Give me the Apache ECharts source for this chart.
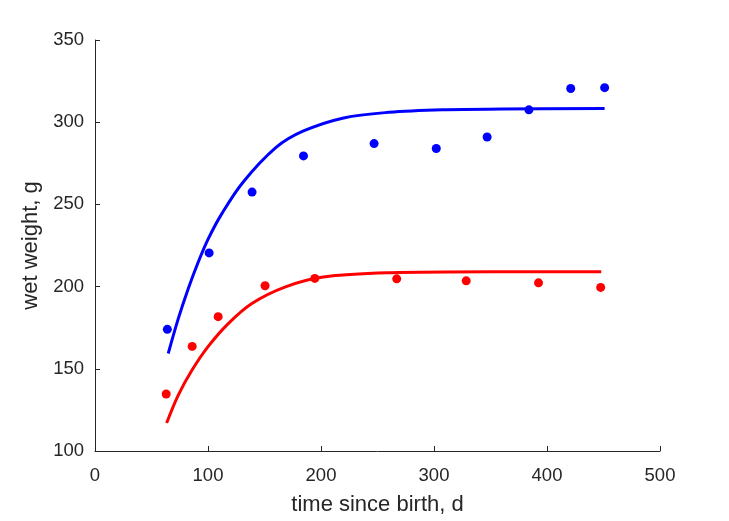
<!DOCTYPE html>
<html>
<head>
<meta charset="utf-8">
<script src="https://cdn.jsdelivr.net/npm/echarts@6/dist/echarts.min.js"></script>
<style>html,body{margin:0;padding:0;background:#fff;}#c{width:729px;height:521px;}</style>
</head>
<body>
<div id="c"></div>
<script>
// observed data (blue)
var blueT = [64, 101, 139, 184.5, 247, 302, 347, 384, 421, 451];
var blueW = [174, 220.5, 257.5, 279.5, 287, 284, 291, 307.5, 320.5, 321];
// observed data (red)
var redT = [63, 86, 109, 150.5, 194.5, 267, 328.5, 392.5, 447.5];
var redW = [134.7, 163.6, 181.7, 200.5, 205, 204.7, 203.5, 202.3, 199.5];
// fitted curves
var blueCurveT = [64.8, 73.7, 82.5, 91.3, 100.2, 112, 131, 160, 184, 220, 260, 311, 360, 451];
var blueCurveW = [159.3, 180.5, 198.7, 214.8, 229, 244.1, 263.5, 284.5, 294.5, 302.6, 306, 307.6, 308, 308.4];
var redCurveT = [63.4, 73.7, 85.5, 100.2, 117.9, 138.5, 168, 202, 261, 350, 448];
var redCurveW = [117, 134, 148.8, 163.6, 177.5, 189.6, 199.7, 205.8, 208.4, 209, 209];

function pairs(a, b) { return a.map(function (v, i) { return [v, b[i]]; }); }

var textColor = '#262626';
var chart = echarts.init(document.getElementById('c'), null, {renderer: 'canvas'});
chart.setOption({
  animation: false,
  backgroundColor: '#fff',
  grid: {left: 95, right: 69, top: 40, bottom: 68},
  xAxis: {
    type: 'value', min: 0, max: 500, interval: 100,
    name: 'time since birth, d', nameLocation: 'middle', nameGap: 43,
    nameTextStyle: {fontFamily: 'Liberation Sans', fontSize: 22, color: textColor},
    axisLine: {lineStyle: {color: textColor, width: 1}},
    axisTick: {inside: true, length: 5, lineStyle: {color: textColor}},
    axisLabel: {fontFamily: 'Liberation Sans', fontSize: 18.5, color: textColor, margin: 15},
    splitLine: {show: false}
  },
  yAxis: {
    type: 'value', min: 100, max: 350, interval: 50,
    name: 'wet weight, g', nameLocation: 'middle', nameGap: 48,
    nameTextStyle: {fontFamily: 'Liberation Sans', fontSize: 22, color: textColor},
    axisLine: {show: true, lineStyle: {color: textColor, width: 1}},
    axisTick: {show: true, inside: true, length: 5, lineStyle: {color: textColor}},
    axisLabel: {fontFamily: 'Liberation Sans', fontSize: 18.5, color: textColor, margin: 11},
    splitLine: {show: false}
  },
  series: [
    {type: 'line', data: pairs(blueCurveT, blueCurveW), smooth: 0.35, showSymbol: false,
     lineStyle: {color: '#0000ff', width: 3}, z: 2},
    {type: 'line', data: pairs(redCurveT, redCurveW), smooth: 0.35, showSymbol: false,
     lineStyle: {color: '#ff0000', width: 3}, z: 2},
    {type: 'scatter', data: pairs(blueT, blueW), symbolSize: 9, itemStyle: {color: '#0000ff', opacity: 1}, z: 3},
    {type: 'scatter', data: pairs(redT, redW), symbolSize: 9, itemStyle: {color: '#ff0000', opacity: 1}, z: 3}
  ]
});
</script>
</body>
</html>
